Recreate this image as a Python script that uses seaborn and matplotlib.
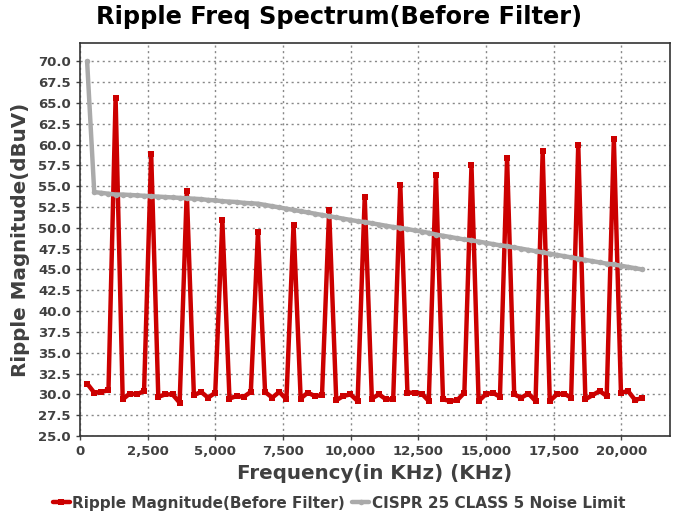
import matplotlib
matplotlib.use("Agg")
import matplotlib.pyplot as plt
import matplotlib.ticker as mticker
import numpy as np
import pandas as pd
import seaborn as sns

# Harmonic sample frequencies (kHz)
step_khz = 263
freq_khz = [step_khz * k for k in range(1, 80)]

# Measured ripple magnitude before filtering (dBuV)
ripple_dbuv = [
    31.3, 30.2, 30.3, 30.5, 65.6, 29.4, 30.1, 30.0, 30.4, 58.9,
    29.7, 30.0, 30.0, 29.0, 54.4, 29.9, 30.3, 29.6, 30.2, 50.9,
    29.5, 29.8, 29.7, 30.3, 49.5, 30.3, 29.6, 30.3, 29.4, 50.4,
    29.5, 30.2, 29.8, 29.9, 52.1, 29.3, 29.8, 30.0, 29.2, 53.7,
    29.5, 30.0, 29.4, 29.4, 55.2, 30.2, 30.2, 30.1, 29.2, 56.4,
    29.4, 29.2, 29.3, 30.2, 57.5, 29.2, 30.0, 30.2, 29.7, 58.4,
    30.0, 29.6, 30.1, 29.2, 59.2, 29.2, 30.0, 30.1, 29.6, 60.0,
    29.4, 29.9, 30.4, 29.8, 60.7, 30.2, 30.4, 29.3, 29.6,
]

# CISPR 25 Class 5 conducted noise limit (dBuV)
limit_dbuv = [
    70.0, 54.3, 54.2, 54.1, 54.0, 54.0, 53.95, 53.9, 53.85, 53.8,
    53.75, 53.7, 53.65, 53.6, 53.55, 53.5, 53.45, 53.35, 53.3, 53.2,
    53.15, 53.1, 53.0, 52.95, 52.9, 52.75, 52.6, 52.45, 52.3, 52.15,
    52.0, 51.85, 51.7, 51.55, 51.4, 51.25, 51.1, 50.95, 50.8, 50.7,
    50.55, 50.4, 50.25, 50.1, 50.0, 49.85, 49.7, 49.55, 49.4, 49.2,
    49.05, 48.9, 48.75, 48.6, 48.5, 48.35, 48.2, 48.05, 47.9, 47.8,
    47.65, 47.5, 47.35, 47.2, 47.05, 46.9, 46.75, 46.6, 46.45, 46.3,
    46.15, 46.0, 45.85, 45.7, 45.6, 45.45, 45.3, 45.15, 45.0,
]

series_ripple = "Ripple Magnitude(Before Filter)"
series_limit = "CISPR 25 CLASS 5 Noise Limit"

df = pd.DataFrame({
    "freq": freq_khz * 2,
    "value": ripple_dbuv + limit_dbuv,
    "series": [series_ripple] * len(freq_khz) + [series_limit] * len(freq_khz),
})

sns.set_theme(style="white")
plt.rcParams["font.family"] = ["DejaVu Sans"]
plt.rcParams["font.weight"] = "bold"

text_color = "#404040"
red = "#cc0000"
gray = "#aaaaaa"

fig = plt.figure(figsize=(6.78, 5.15), dpi=100)
ax = fig.add_axes([80 / 678, 1 - 436 / 515, 590 / 678, 393 / 515])

sns.lineplot(
    data=df[df["series"] == series_ripple], x="freq", y="value",
    color=red, linewidth=3.2, marker="s", markersize=4.5,
    markeredgewidth=0, sort=False, ax=ax, label=series_ripple, zorder=3,
)
sns.lineplot(
    data=df[df["series"] == series_limit], x="freq", y="value",
    color=gray, linewidth=3.2, marker="o", markersize=4,
    markeredgewidth=0, sort=False, ax=ax, label=series_limit, zorder=4,
)

ax.set_xlim(0, 21800)
ax.set_ylim(25, 72.2)
ax.xaxis.set_major_locator(mticker.MultipleLocator(2500))
ax.yaxis.set_major_locator(mticker.MultipleLocator(2.5))
ax.xaxis.set_major_formatter(mticker.FuncFormatter(lambda v, p: f"{v:,.0f}"))
ax.yaxis.set_major_formatter(mticker.FormatStrFormatter("%.1f"))

ax.grid(True, color="#888888", linestyle=(0, (1.5, 2.5)), linewidth=1.0)
for side in ["left", "bottom", "right", "top"]:
    ax.spines[side].set_color("#333333")
    ax.spines[side].set_linewidth(1.2)

ax.tick_params(axis="both", which="major", labelsize=9.5, colors=text_color,
               length=3, width=1, direction="out", left=True, bottom=True)
for lbl in ax.get_xticklabels() + ax.get_yticklabels():
    lbl.set_fontweight("bold")

ax.set_xlabel("Frequency(in KHz) (KHz)", fontsize=14.3, fontweight="bold",
              color=text_color, labelpad=4)
ax.set_ylabel("Ripple Magnitude(dBuV)", fontsize=14.3, fontweight="bold",
              color=text_color, labelpad=6)

fig.suptitle("Ripple Freq Spectrum(Before Filter)", x=0.5, y=0.99,
             fontsize=17.3, fontweight="bold", color="black")

handles, labels = ax.get_legend_handles_labels()
ax.get_legend().remove()
leg = fig.legend(handles, labels, loc="lower center", bbox_to_anchor=(0.5, -0.018),
                 ncol=2, frameon=False, fontsize=11, handlelength=1.1,
                 handletextpad=0.15, columnspacing=0.5)
for t in leg.get_texts():
    t.set_color(text_color)
    t.set_fontweight("bold")

fig.savefig("out.png", dpi=100)
